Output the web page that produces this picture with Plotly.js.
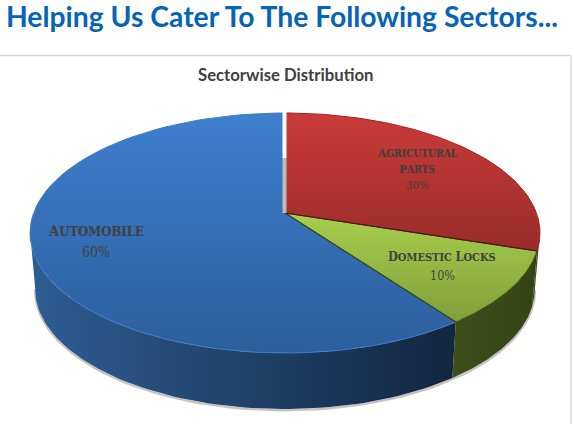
<!DOCTYPE html>
<html><head><meta charset="utf-8">
<script src="https://cdn.plot.ly/plotly-3.0.1.min.js"></script>
<style>html,body{margin:0;padding:0;background:#fff}#c{width:574px;height:424px}</style></head>
<body><div id="c"></div>
<script>
const categories = ["Agricutural Parts", "Domestic Locks", "Automobile"];
const values = [30, 10, 60];
const labelLines = [["AGRICUTURAL","PARTS"],["DOMESTIC LOCKS"],["AUTOMOBILE"]];
const labelSizes = [10.2,11,13];
const pctSizes = [11.5,12.5,14];
const labelAnchor = [[417,153,16],[442,256,19],[96,230,22]];
const topColors = [["#ca3b38","#992c2a"],["#a8cf4c","#7f9f3a"],["#3e7fcf","#2c5e9d"]];
const edgeColors = ["#a81e1e","#3a4a17","#3f7cc8"];
const wallColors = [["#3f4f1a","#3f4f1a"],["#3f4f1a","#344215"],["#2e5d94","#12263f"]];

// projection of the round pie onto the page
const CX=285, CY=233, DX=251.4, DEPTH=56, NEAR=6, K=0.98;
function px(th,s){const u=Math.sin(th),v=-Math.cos(th);return CX+DX*(s||1)*u/(1-v/NEAR);}
function py(th,dy){const v=-Math.cos(th);return CY+(120*v-20)/(1-v/NEAR)+(dy||0);}
const deg=d=>d*Math.PI/180, total=values.reduce((a,b)=>a+b,0);
let acc=0; const spans=values.map(v=>{const a=acc/total*360;acc+=v;return [a,acc/total*360];});
function arc(a,b,fn,n=80){const o=[];for(let i=0;i<=n;i++)o.push(fn(deg(a+(b-a)*i/n)));return o;}
const traces=[];
const base={type:'scatter',mode:'lines',hoverinfo:'skip',showlegend:false};
const LEFT=261, RIGHT=99.6;
// shadow under the walls
{const a=arc(RIGHT,LEFT,t=>px(t,K)),b=arc(RIGHT,LEFT,t=>py(t,DEPTH));
 traces.push({...base,x:a,y:b.map(y=>y+1.2),line:{color:'rgba(90,85,75,0.35)',width:2.5}});}
// walls
spans.forEach(([a,b],i)=>{
  const s=Math.max(a,RIGHT), e=Math.min(b,LEFT);
  if(e<=s) return;
  const xs=arc(s,e,t=>px(t)).concat(arc(e,s,t=>px(t,K)));
  const ys=arc(s,e,t=>py(t)).concat(arc(e,s,t=>py(t,DEPTH)));
  traces.push({...base,x:xs,y:ys,fill:'toself',line:{width:0,color:wallColors[i][1]},
    fillgradient:{type:'horizontal',colorscale:[[0,wallColors[i][0]],[1,wallColors[i][1]]]}});
});
// top faces
const apex=[CX, CY-20];
spans.forEach(([a,b],i)=>{
  const xs=[apex[0]].concat(arc(a,b,t=>px(t)),[apex[0]]);
  const ys=[apex[1]].concat(arc(a,b,t=>py(t)),[apex[1]]);
  traces.push({...base,x:xs,y:ys,fill:'toself',line:{width:1,color:edgeColors[i]},
    fillgradient:{type:'vertical',colorscale:[[0,topColors[i][1]],[1,topColors[i][0]]]}});
});
// dividers between faces
[[spans[0][1],'#4d1414'],[spans[1][1],'#33420f']].forEach(([d,c])=>{
  traces.push({...base,x:[apex[0],px(deg(d))],y:[apex[1],py(deg(d))],line:{width:1.2,color:c}});
});
// seam where the large slice stands off from the first one
traces.push({...base,x:[284.5,284.5],y:[py(0)-1,158],line:{width:4,color:'#ffffff'}});
traces.push({...base,x:[284.5,284.5],y:[158,apex[1]],line:{width:4,color:'#bcbcbc'}});

const famL='"DejaVu Serif Condensed","DejaVu Serif",serif';
const annotations=[];
labelLines.forEach((l,i)=>{
  const [x,y,gap]=labelAnchor[i];
  l.forEach((t,j)=>{
    const big=t.split(' ').map(w=>'<span style="font-size:'+(labelSizes[i]+1.6)+'px">'+w[0]+'</span>'+w.slice(1)).join(' ');
    annotations.push({x,y:y+gap*j,xref:'x',yref:'y',showarrow:false,align:'center',yanchor:'middle',text:big,
      font:{family:famL,size:labelSizes[i],color:'#404040',weight:600}});
  });
  annotations.push({x,y:y+gap*l.length,xref:'x',yref:'y',showarrow:false,align:'center',yanchor:'middle',text:values[i]+'%',
      font:{family:famL,size:pctSizes[i],color:'#404040',weight:400}});
});
annotations.push({xref:'paper',yref:'paper',x:285/574,y:1-75/424,xanchor:'center',yanchor:'middle',showarrow:false,
  text:'<b>Sectorwise Distribution</b>',font:{family:'Lato',size:16.7,color:'#404040'}});
const layout={width:574,height:424,margin:{l:0,r:0,t:0,b:0},paper_bgcolor:'#fff',plot_bgcolor:'#fff',
 title:{text:'<b>Helping Us Cater To The Following Sectors...</b>',x:6/574,xanchor:'left',y:1-17/424,yanchor:'middle',
   font:{family:'Lato',size:28.3,color:'#0563b8'}},
 xaxis:{range:[0,574],visible:false,fixedrange:true},
 yaxis:{range:[424,0],visible:false,fixedrange:true},
 annotations,
 shapes:[
  {type:'line',xref:'paper',yref:'paper',x0:0,x1:571/574,y0:1-55.5/424,y1:1-55.5/424,line:{color:'#d9d9d9',width:1.5}},
  {type:'line',xref:'paper',yref:'paper',x0:571/574,x1:571/574,y0:1-55.5/424,y1:0,line:{color:'#d9d9d9',width:1.5}}
 ]};
Plotly.newPlot('c',traces,layout,{displayModeBar:false,staticPlot:true});
</script></body></html>
